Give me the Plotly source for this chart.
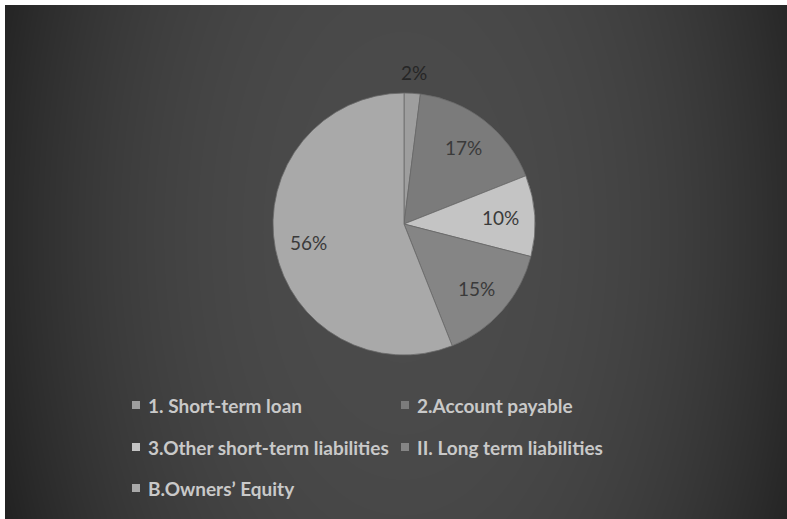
import numpy as np
import plotly.graph_objects as go

# Capital structure breakdown (share of total, %)
labels = [
    "1. Short-term loan",
    "2.Account payable",
    "3.Other short-term liabilities",
    "II. Long term liabilities",
    "B.Owners\u2019 Equity",
]
values = [2, 17, 10, 15, 56]
slice_colors = ["#9e9e9e", "#7b7b7b", "#c4c4c4", "#858585", "#a9a9a9"]
label_outside = [True, False, False, False, False]

W, H = 787, 519
FONT = "Lato"

# Pie placement in pixels
CX, CY, R = 404, 224, 131

fig = go.Figure()

# Soft radial backdrop drawn as a smoothed grayscale heatmap
gx = np.linspace(0, W, 90)
gy = np.linspace(0, H, 60)
X, Y = np.meshgrid(gx, gy)
d = np.sqrt(((X - 400) / 395) ** 2 + ((Y - 230) / 700) ** 2)
shade = 75 - 33 * np.clip(d, 0, 1.2) ** 2.5
fig.add_trace(go.Heatmap(
    x=gx, y=gy, z=shade,
    zmin=0, zmax=255, zsmooth="best",
    colorscale=[[0, "rgb(0,0,0)"], [1, "rgb(255,255,255)"]],
    showscale=False, hoverinfo="skip",
))

fig.add_trace(go.Pie(
    labels=labels,
    values=values,
    sort=False,
    direction="clockwise",
    rotation=0,
    marker=dict(colors=slice_colors, line=dict(color="#6a6a6a", width=0.8)),
    textinfo="none",
    domain=dict(x=[(CX - R) / W, (CX + R) / W], y=[1 - (CY + R) / H, 1 - (CY - R) / H]),
    showlegend=False,
    hoverinfo="label+percent",
))

annotations = []

# Percentage labels placed along each slice's mid-angle
total = float(sum(values))
cum = 0.0
for v, outside in zip(values, label_outside):
    mid = (cum + v / 2) / total * 2 * np.pi  # clockwise from 12 o'clock
    cum += v
    rr = R * (1.16 if outside else 0.74)
    px = CX + rr * np.sin(mid)
    py = CY - rr * np.cos(mid)
    annotations.append(dict(
        x=px / W, y=1 - py / H, xref="paper", yref="paper",
        xanchor="center", yanchor="middle", showarrow=False,
        text=f"{round(v / total * 100)}%",
        font=dict(family=FONT, size=19, color="#262626" if outside else "#3a3a3a"),
    ))

# Legend laid out in two columns below the pie
cols_x = [136, 405]
rows_y = [405, 447, 488]
shapes = []
for i, (lab, col) in enumerate(zip(labels, slice_colors)):
    r, c = divmod(i, 2)
    mx, my = cols_x[c], rows_y[r]
    shapes.append(dict(
        type="rect", xref="paper", yref="paper",
        x0=(mx - 4) / W, x1=(mx + 4) / W,
        y0=1 - (my + 4) / H, y1=1 - (my - 4) / H,
        fillcolor=col, line=dict(width=0), layer="above",
    ))
    annotations.append(dict(
        x=(mx + 10) / W, y=1 - my / H, xref="paper", yref="paper",
        xanchor="left", yanchor="middle", showarrow=False,
        text="<b>" + lab + "</b>",
        font=dict(family=FONT, size=19, color="#c9c9c9"),
    ))

fig.update_layout(
    width=W, height=H,
    margin=dict(l=0, r=0, t=0, b=0),
    paper_bgcolor="#ffffff",
    plot_bgcolor="rgba(0,0,0,0)",
    xaxis=dict(domain=[5 / W, 1], range=[0, W], visible=False, fixedrange=True),
    yaxis=dict(domain=[0, 1 - 5 / H], range=[H, 0], visible=False, fixedrange=True),
    shapes=shapes,
    annotations=annotations,
    showlegend=False,
)

fig.write_html("out.html")
